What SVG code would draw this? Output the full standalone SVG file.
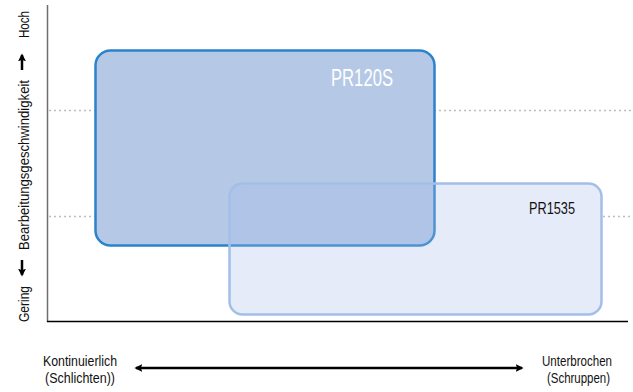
<svg xmlns="http://www.w3.org/2000/svg" width="633" height="392" viewBox="0 0 633 392">
<defs>
<style>
.t{font-family:"Liberation Sans",Arial,sans-serif;fill:#111;}
.dot{stroke:#bdbdbd;stroke-width:1.5;stroke-dasharray:2 3;fill:none;}
.conn{stroke:#000;stroke-width:2.5;fill:none;}
</style>
<marker id="ah" viewBox="0 0 10 10" refX="8" refY="5" markerWidth="3.2" markerHeight="3.2" orient="auto-start-reverse" markerUnits="strokeWidth">
<path d="M0,0 L10,5 L0,10 L2,5 Z" fill="#000"/>
</marker>
</defs>
<rect width="633" height="392" fill="#fff"/>
<g id="grid">
<line class="dot" x1="49" y1="110.5" x2="633" y2="110.5"/>
<line class="dot" x1="49" y1="216.5" x2="95" y2="216.5"/>
<line class="dot" x1="603" y1="216.5" x2="633" y2="216.5"/>
</g>
<g id="axes">
<line x1="47.5" y1="5" x2="47.5" y2="322" stroke="#6e6e6e" stroke-width="1.5"/>
<line x1="47" y1="321.5" x2="628" y2="321.5" stroke="#000" stroke-width="1.5"/>
</g>
<g id="pr120s">
<rect x="95.5" y="50.5" width="339" height="195" rx="15" fill="#b5c9e7" stroke="#2b83c9" stroke-width="2.5"/>
<text class="t" x="331" y="86" font-size="24.5" style="fill:#fff" textLength="62" lengthAdjust="spacingAndGlyphs">PR120S</text>
</g>
<g id="pr1535">
<rect x="229.5" y="183.5" width="372" height="131" rx="13" fill="#a6bae7" fill-opacity="0.29" stroke="#a3bfe8" stroke-width="2.5"/>
<text class="t" x="529" y="213.5" font-size="17" textLength="46" lengthAdjust="spacingAndGlyphs">PR1535</text>
</g>
<g id="yaxis-label">
<text class="t" transform="translate(28.5,38) rotate(-90)" font-size="15.5" textLength="27" lengthAdjust="spacingAndGlyphs">Hoch</text>
<text class="t" transform="translate(28.5,250) rotate(-90)" font-size="15.5" textLength="170" lengthAdjust="spacingAndGlyphs">Bearbeitungsgeschwindigkeit</text>
<text class="t" transform="translate(28.5,322) rotate(-90)" font-size="15.5" textLength="36" lengthAdjust="spacingAndGlyphs">Gering</text>
</g>
<g id="connectors">
<line class="conn" x1="22" y1="70" x2="22" y2="55" marker-end="url(#ah)"/>
<line class="conn" x1="22" y1="260" x2="22" y2="275" marker-end="url(#ah)"/>
<line class="conn" x1="136" y1="368" x2="522" y2="368" marker-start="url(#ah)" marker-end="url(#ah)"/>
</g>
<g id="xaxis-label">
<text class="t" x="43" y="366" font-size="14.5" textLength="74" lengthAdjust="spacingAndGlyphs">Kontinuierlich</text>
<text class="t" x="45" y="383" font-size="14.5" textLength="70" lengthAdjust="spacingAndGlyphs">(Schlichten))</text>
<text class="t" x="542" y="366" font-size="14.5" textLength="70" lengthAdjust="spacingAndGlyphs">Unterbrochen</text>
<text class="t" x="547" y="383" font-size="14.5" textLength="63" lengthAdjust="spacingAndGlyphs">(Schruppen)</text>
</g>
</svg>
